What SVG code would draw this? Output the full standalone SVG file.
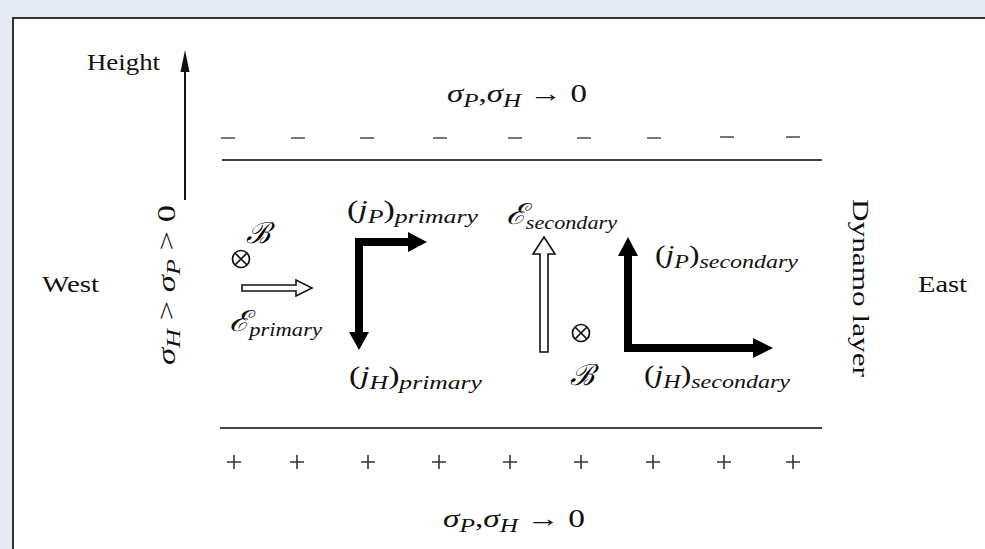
<svg xmlns="http://www.w3.org/2000/svg" width="985" height="549" viewBox="0 0 985 549">
<style>
.t{font-family:"Liberation Serif","DejaVu Serif",serif;fill:#111;font-size:24px}
.m{font-family:"Liberation Serif","DejaVu Serif",serif;fill:#111;font-size:25px}
.i{font-style:italic}
.b{font-size:29px;font-style:italic}
.s{font-size:19px;font-style:italic}
.thick{fill:#000}
.hollow{fill:#fff;stroke:#111;stroke-width:1.6}
.dash{stroke:#777;stroke-width:2}
.plus{stroke:#333;stroke-width:1.6}
.lay{stroke:#444;stroke-width:2}
.ot{fill:none;stroke:#111;stroke-width:1.7}
</style>
<rect x="0" y="0" width="985" height="549" fill="#e5e9f1"/>
<rect x="13" y="18" width="980" height="540" fill="#fff" stroke="#333" stroke-width="2"/>

<g id="height">
  <text class="t" x="87" y="70" textLength="73" lengthAdjust="spacingAndGlyphs">Height</text>
  <line x1="185" y1="200" x2="185" y2="66" stroke="#111" stroke-width="2"/>
  <polygon points="180.5,72 189.5,72 185,50" fill="#111"/>
</g>

<g id="top-boundary">
  <text class="m" x="447" y="102" textLength="140" lengthAdjust="spacingAndGlyphs"><tspan class="i">σ</tspan><tspan class="s" dy="5">P</tspan><tspan dy="-5">,</tspan><tspan class="i">σ</tspan><tspan class="s" dy="5">H</tspan><tspan dy="-5"> → 0</tspan></text>
  <g class="dash">
    <line x1="221" y1="138" x2="235" y2="138"/>
    <line x1="291" y1="138" x2="305" y2="138"/>
    <line x1="360" y1="138" x2="374" y2="138"/>
    <line x1="433" y1="138" x2="447" y2="138"/>
    <line x1="508" y1="138" x2="522" y2="138"/>
    <line x1="577" y1="138" x2="591" y2="138"/>
    <line x1="647" y1="138" x2="661" y2="138"/>
    <line x1="720" y1="137" x2="734" y2="137"/>
    <line x1="786" y1="137" x2="800" y2="137"/>
  </g>
  <line class="lay" x1="222" y1="160" x2="822" y2="160"/>
</g>

<g id="bottom-boundary">
  <line class="lay" x1="220" y1="428" x2="822" y2="428"/>
  <g class="plus">
    <path d="M227,462h14M234,455v14"/>
    <path d="M290,462h14M297,455v14"/>
    <path d="M361,462h14M368,455v14"/>
    <path d="M432,462h14M439,455v14"/>
    <path d="M503,462h14M510,455v14"/>
    <path d="M574,462h14M581,455v14"/>
    <path d="M646,462h14M653,455v14"/>
    <path d="M717,462h14M724,455v14"/>
    <path d="M786,462h14M793,455v14"/>
  </g>
  <text class="m" x="443" y="527" textLength="142" lengthAdjust="spacingAndGlyphs"><tspan class="i">σ</tspan><tspan class="s" dy="5">P</tspan><tspan dy="-5">,</tspan><tspan class="i">σ</tspan><tspan class="s" dy="5">H</tspan><tspan dy="-5"> → 0</tspan></text>
</g>

<g id="west">
  <text class="t" x="42" y="292" textLength="57" lengthAdjust="spacingAndGlyphs">West</text>
</g>

<g id="conductivity">
  <text class="m" transform="translate(175,285) rotate(-90)" text-anchor="middle" textLength="160" lengthAdjust="spacingAndGlyphs"><tspan class="i">σ</tspan><tspan class="s" dy="5">H</tspan><tspan dy="-5"> &gt; </tspan><tspan class="i">σ</tspan><tspan class="s" dy="5">P</tspan><tspan dy="-5"> &gt; 0</tspan></text>
</g>

<g id="primary-field">
  <text class="b" x="246" y="243">ℬ</text>
  <circle class="ot" cx="241" cy="259" r="8.5"/>
  <path class="ot" d="M235,253L247,265M247,253L235,265"/>
  <path class="hollow" d="M242,285H296V280L312,288L296,296V291H242Z"/>
  <text class="m" x="229" y="331" textLength="93" lengthAdjust="spacingAndGlyphs"><tspan class="b">ℰ</tspan><tspan class="s" dy="5">primary</tspan></text>
</g>

<g id="primary-currents">
  <text class="m" x="347" y="218" textLength="131" lengthAdjust="spacingAndGlyphs">(<tspan class="i">j</tspan><tspan class="s" dy="5">P</tspan><tspan dy="-5">)</tspan><tspan class="s" dy="5">primary</tspan></text>
  <rect class="thick" x="355" y="238" width="8" height="96"/>
  <polygon class="thick" points="349,332 369,332 359,350"/>
  <rect class="thick" x="355" y="238" width="55" height="8"/>
  <polygon class="thick" points="408,232 408,252 427,242"/>
  <text class="m" x="349" y="384" textLength="133" lengthAdjust="spacingAndGlyphs">(<tspan class="i">j</tspan><tspan class="s" dy="5">H</tspan><tspan dy="-5">)</tspan><tspan class="s" dy="5">primary</tspan></text>
</g>

<g id="secondary-field">
  <text class="m" x="506" y="224" textLength="111" lengthAdjust="spacingAndGlyphs"><tspan class="b">ℰ</tspan><tspan class="s" dy="5">secondary</tspan></text>
  <path class="hollow" d="M540,352V254H533L544,237L555,254H548V352Z"/>
  <circle class="ot" cx="581" cy="333" r="8.5"/>
  <path class="ot" d="M575,327L587,339M587,327L575,339"/>
  <text class="b" x="570" y="385">ℬ</text>
</g>

<g id="secondary-currents">
  <rect class="thick" x="624" y="254" width="8" height="98"/>
  <polygon class="thick" points="618,256 638,256 628,237"/>
  <rect class="thick" x="624" y="344" width="131" height="8"/>
  <polygon class="thick" points="753,338 753,358 773,348"/>
  <text class="m" x="655" y="263" textLength="143" lengthAdjust="spacingAndGlyphs">(<tspan class="i">j</tspan><tspan class="s" dy="5">P</tspan><tspan dy="-5">)</tspan><tspan class="s" dy="5">secondary</tspan></text>
  <text class="m" x="644" y="383" textLength="146" lengthAdjust="spacingAndGlyphs">(<tspan class="i">j</tspan><tspan class="s" dy="5">H</tspan><tspan dy="-5">)</tspan><tspan class="s" dy="5">secondary</tspan></text>
</g>

<g id="dynamo-layer">
  <text class="t" transform="translate(853,288) rotate(90)" text-anchor="middle" textLength="178" lengthAdjust="spacingAndGlyphs">Dynamo layer</text>
</g>

<g id="east">
  <text class="t" x="918" y="292" textLength="49" lengthAdjust="spacingAndGlyphs">East</text>
</g>
</svg>
